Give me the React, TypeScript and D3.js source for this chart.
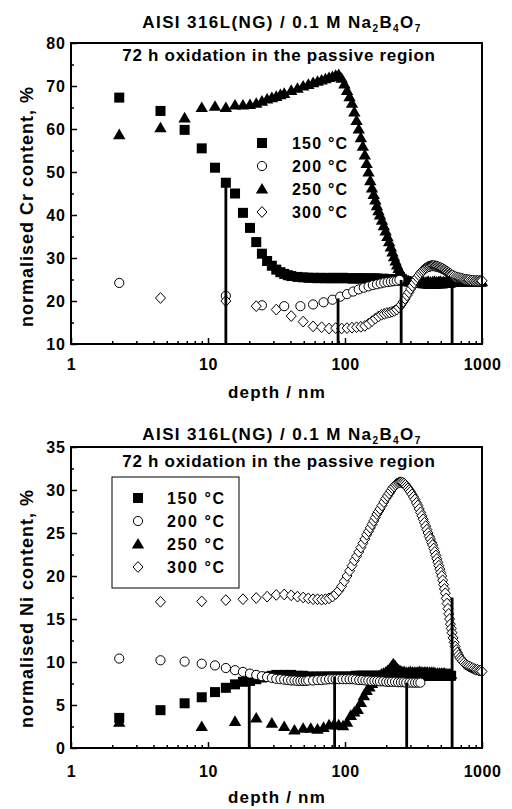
import React, { useEffect, useRef } from "react";
import * as d3 from "d3";

type Pt = [number, number];

// depth (nm), normalised Cr content (%)
const cr150: Pt[] = [
  [2.25, 67.3], [4.5, 64.2], [6.75, 59.8], [9, 55.5], [11.25, 51], [13.5, 47.5], [15.75, 45], [18, 40.5],
  [20.25, 37], [22.5, 33.7], [24.75, 31], [27, 29.3], [29.25, 28.2], [31.5, 27.3], [33.75, 26.7], [36, 26.3],
  [38.25, 26], [40.5, 25.8], [45, 25.6], [49.5, 25.5], [54, 25.4], [58.5, 25.4], [63, 25.3], [67.5, 25.4],
  [72, 25.3], [76.5, 25.3], [81, 25.4], [85.5, 25.3], [90, 25.3], [96, 25.4], [102, 25.3], [108, 25.3],
  [114, 25.2], [120, 25.3], [127, 25.3], [134, 25.2], [141, 25.3], [148, 25.2], [156, 25.2], [164, 25.3],
  [172, 25.2], [180, 25.1], [190, 25.2], [200, 25.1], [210, 25.1], [220, 25], [232, 25], [244, 24.9],
  [256, 24.8], [268, 24.7], [280, 24.6], [295, 24.5], [310, 24.4], [325, 24.3], [340, 24.2], [355, 24.2],
  [370, 24.1], [385, 24.1], [400, 24], [415, 24], [430, 24], [445, 24], [460, 24], [475, 24.1], [490, 24.1],
  [505, 24.1], [520, 24.1], [535, 24.2], [550, 24.2], [565, 24.2], [580, 24.2], [595, 24.3],
];
const cr200: Pt[] = [
  [2.25, 24.2], [13.5, 21.2], [24.75, 19], [36, 18.8], [47.25, 18.8], [58.5, 19.2], [69.75, 19.7], [81, 20.3],
  [92.25, 21], [103.5, 21.6], [114.75, 22.2], [126, 22.7], [137.25, 23.1], [148.5, 23.4], [159.75, 23.7],
  [171, 23.9], [182.25, 24.1], [193.5, 24.3], [204.75, 24.4], [216, 24.5], [227.25, 24.6], [238.5, 24.7],
  [249.75, 24.9],
];
const cr250: Pt[] = [
  [2.25, 58.7], [4.5, 60.3], [6.75, 62.6], [9, 65], [11.25, 65.3], [13.5, 65], [15.75, 65.6], [18, 65.6],
  [20.25, 65.7], [22.5, 66], [24.75, 66.5], [27, 67], [29.25, 67.3], [31.5, 67.6], [33.75, 68], [36, 68.3],
  [40.5, 69], [45, 69.5], [49.5, 70], [54, 70.4], [58.5, 70.8], [63, 71.1], [67.5, 71.4], [72, 71.7],
  [76.5, 72], [81, 72.2], [85.5, 72.5], [90, 72.7], [94.5, 71.8], [99, 70.5], [103.5, 69], [108, 67.5],
  [112.5, 66], [117, 64], [121.5, 62], [126, 60], [130.5, 58], [135, 56], [139.5, 54], [144, 52], [148.5, 50],
  [153, 48], [157.5, 46.3], [162, 44.8], [166.5, 43.5], [171, 42.2], [175.5, 41], [180, 40], [186, 38.8],
  [192, 37.5], [198, 36.3], [204, 35], [210, 33.8], [216, 32.6], [222, 31.4], [228, 30.3], [234, 29.3],
  [240, 28.4], [246, 27.6], [252, 26.9], [258, 26.3], [264, 25.8], [270, 25.4], [280, 25], [290, 24.7],
  [300, 24.5], [315, 24.6], [330, 24.4], [345, 24.6], [360, 24.4], [375, 24.5], [390, 24.4], [405, 24.6],
  [420, 24.4], [435, 24.5], [450, 24.6], [465, 24.4], [480, 24.5], [495, 24.6], [510, 24.4], [525, 24.5],
  [540, 24.4], [555, 24.6], [570, 24.4], [585, 24.5], [600, 24.6], [620, 24.4], [640, 24.5], [660, 24.6],
  [680, 24.4], [700, 24.5], [720, 24.4], [740, 24.6], [760, 24.4], [780, 24.5], [800, 24.6], [825, 24.4],
  [850, 24.5], [875, 24.4], [900, 24.6], [925, 24.4], [950, 24.5], [975, 24.4], [1000, 24.5],
];
const cr300: Pt[] = [
  [4.5, 20.7], [13.5, 20], [22.5, 18.8], [31.5, 18], [40.5, 16.5], [49.5, 15.2], [58.5, 14.1], [67.5, 13.9],
  [76.5, 13.6], [85.5, 13.7], [94.5, 13.6], [103.5, 13.7], [112.5, 13.8], [121.5, 13.9], [130.5, 14],
  [139.5, 14.2], [148.5, 14.7], [157.5, 15.3], [166.5, 15.9], [175.5, 16.4], [184.5, 16.8], [193.5, 17],
  [202.5, 17.2], [211.5, 17.3], [220.5, 17.5], [229.5, 17.7], [238.5, 18], [247.5, 18.5], [256.5, 19.1],
  [265.5, 19.8], [274.5, 20.5], [283.5, 21.3], [292.5, 22], [301.5, 22.8], [310.5, 23.5], [319.5, 24.2],
  [328.5, 24.9], [337.5, 25.5], [346.5, 26], [355.5, 26.5], [364.5, 26.9], [373.5, 27.2], [382.5, 27.5],
  [391.5, 27.7], [400.5, 27.9], [409.5, 28], [418.5, 28.1], [427.5, 28.2], [436.5, 28.2], [445.5, 28.2],
  [454.5, 28.1], [463.5, 28.1], [472.5, 28], [481.5, 27.9], [490.5, 27.8], [499.5, 27.7], [508.5, 27.6],
  [517.5, 27.5], [526.5, 27.3], [535.5, 27.2], [544.5, 27], [553.5, 26.9], [562.5, 26.7], [571.5, 26.6],
  [580.5, 26.4], [589.5, 26.3], [598.5, 26.1], [607.5, 26], [625, 25.8], [643, 25.6], [661, 25.5],
  [679, 25.4], [697, 25.3], [715, 25.2], [733, 25.1], [751, 25], [769, 25], [787, 24.9], [805, 24.9],
  [830, 24.8], [855, 24.8], [880, 24.7], [905, 24.7], [930, 24.7], [955, 24.7], [980, 24.7], [1000, 24.7],
];
// depth (nm), normalised Ni content (%)
const ni150: Pt[] = [
  [2.25, 3.5], [4.5, 4.4], [6.75, 5.2], [9, 5.9], [11.25, 6.5], [13.5, 7], [15.75, 7.4], [18, 7.7],
  [20.25, 7.8], [22.5, 8], [24.75, 8.2], [27, 8.3], [29.25, 8.4], [31.5, 8.5], [36, 8.5], [40.5, 8.5],
  [45, 8.4], [49.5, 8.4], [54, 8.3], [58.5, 8.3], [63, 8.3], [67.5, 8.3], [72, 8.3], [76.5, 8.3], [81, 8.3],
  [85.5, 8.3], [90, 8.3], [96, 8.3], [102, 8.3], [108, 8.3], [114, 8.3], [120, 8.4], [127, 8.4], [134, 8.4],
  [141, 8.4], [148, 8.4], [156, 8.4], [164, 8.4], [172, 8.4], [180, 8.4], [190, 8.4], [200, 8.4], [210, 8.4],
  [220, 8.4], [232, 8.4], [244, 8.4], [256, 8.4], [268, 8.4], [280, 8.4], [295, 8.4], [310, 8.4], [325, 8.4],
  [340, 8.4], [355, 8.4], [370, 8.4], [385, 8.4], [400, 8.4], [415, 8.4], [430, 8.4], [445, 8.4], [460, 8.4],
  [475, 8.4], [490, 8.4], [505, 8.4], [520, 8.4], [535, 8.4], [550, 8.4], [565, 8.4], [580, 8.4], [595, 8.4],
];
const ni200: Pt[] = [
  [2.25, 10.4], [4.5, 10.2], [6.75, 10.05], [9, 9.8], [11.25, 9.6], [13.5, 9.3], [15.75, 9.05], [18, 8.85],
  [20.25, 8.65], [22.5, 8.5], [24.75, 8.35], [27, 8.25], [29.25, 8.15], [31.5, 8.05], [33.75, 8], [36, 7.95],
  [38.25, 7.9], [40.5, 7.85], [42.75, 7.85], [45, 7.8], [47.25, 7.8], [49.5, 7.8], [51.75, 7.8], [54, 7.85],
  [58.5, 7.85], [63, 7.9], [67.5, 7.9], [72, 7.95], [76.5, 8], [81, 8], [85.5, 8], [90, 8], [96, 8], [102, 8],
  [108, 8], [114, 8], [120, 7.95], [127, 7.9], [134, 7.9], [141, 7.85], [148, 7.85], [156, 7.8], [164, 7.8],
  [172, 7.8], [180, 7.75], [190, 7.75], [200, 7.7], [210, 7.7], [220, 7.7], [232, 7.7], [244, 7.65],
  [256, 7.65], [268, 7.65], [280, 7.6], [295, 7.6], [310, 7.6], [325, 7.6], [340, 7.6], [355, 7.6],
];
const ni250: Pt[] = [
  [2.25, 3], [9, 2.5], [15.75, 3.1], [22.5, 3.5], [29.25, 2.9], [36, 2.5], [42.75, 2.1], [49.5, 2.3],
  [56.25, 2.3], [63, 2.2], [69.75, 2.4], [76.5, 2.7], [83.25, 2.8], [90, 2.7], [96.75, 2.6], [103.5, 3.0],
  [110.25, 3.8], [117, 4.2], [123.75, 4.5], [130.5, 5.3], [137.25, 6.1], [144, 6.7], [150.75, 7.1],
  [157.5, 7.5], [164.25, 7.9], [171, 8.2], [177.75, 8.4], [184.5, 8.6], [191.25, 8.7], [198, 8.8],
  [204.75, 9], [211.5, 9.2], [218.25, 9.5], [225, 9.8], [231.75, 9.6], [238.5, 9.3], [245.25, 9.1], [252, 9],
  [260, 8.9], [270, 8.9], [280, 8.8], [290, 8.8], [300, 8.9], [310, 8.8], [320, 8.8], [330, 8.8], [340, 8.8],
  [350, 8.9], [360, 8.8], [370, 8.8], [380, 8.8], [390, 8.8], [400, 8.8], [415, 8.8], [430, 8.8], [445, 8.8],
  [460, 8.7], [475, 8.7], [490, 8.7], [505, 8.7], [520, 8.7], [535, 8.7], [550, 8.6], [565, 8.6], [580, 8.6],
  [595, 8.6],
];
const ni300: Pt[] = [
  [4.5, 17], [9, 17.05], [13.5, 17.2], [18, 17.3], [22.5, 17.45], [27, 17.6], [31.5, 17.8], [36, 17.85],
  [40.5, 17.75], [45, 17.6], [49.5, 17.5], [54, 17.4], [58.5, 17.3], [63, 17.3], [67.5, 17.25], [72, 17.3],
  [76.5, 17.4], [81, 17.6], [85.5, 17.9], [90, 18.3], [94.5, 18.8], [99, 19.4], [103.5, 20], [108, 20.6],
  [112.5, 21.2], [117, 21.8], [121.5, 22.3], [126, 22.8], [130.5, 23.3], [135, 23.8], [139.5, 24.3],
  [144, 24.8], [148.5, 25.2], [153, 25.6], [157.5, 26], [162, 26.4], [166.5, 26.8], [171, 27.2],
  [175.5, 27.5], [180, 27.8], [186, 28.2], [192, 28.6], [198, 29], [204, 29.3], [210, 29.6], [216, 29.9],
  [222, 30.2], [228, 30.4], [234, 30.6], [240, 30.75], [246, 30.85], [252, 30.9], [258, 30.9], [264, 30.85],
  [270, 30.75], [276, 30.6], [282, 30.4], [288, 30.2], [294, 30], [300, 29.8], [308, 29.5], [316, 29.2],
  [324, 28.9], [332, 28.5], [340, 28.2], [348, 27.8], [356, 27.4], [364, 27.0], [372, 26.6], [380, 26.2],
  [388, 25.8], [396, 25.4], [404, 25.0], [412, 24.6], [420, 24.3], [428, 23.9], [436, 23.6], [444, 23.2],
  [452, 22.8], [460, 22.4], [468, 22.0], [476, 21.6], [484, 21.2], [492, 20.8], [500, 20.4], [508, 20.0],
  [516, 19.5], [524, 19.0], [532, 18.5], [540, 18.0], [548, 17.4], [556, 16.8], [564, 16.2], [572, 15.6],
  [580, 15.0], [588, 14.4], [596, 13.9], [604, 13.4], [615, 12.8], [626, 12.3], [637, 11.8], [648, 11.4],
  [660, 11.1], [675, 10.8], [690, 10.5], [705, 10.3], [720, 10.1], [740, 9.9], [760, 9.7], [780, 9.6],
  [800, 9.5], [825, 9.4], [850, 9.3], [875, 9.2], [900, 9.1], [925, 9.1], [950, 9], [975, 9], [1000, 8.9],
];

// vertical drop lines: depth, top value
const crLines: Pt[] = [[13.5, 47.5], [89, 20.6], [257, 24.9], [605, 24.2]];
const niLines: Pt[] = [[20, 7.8], [84, 8.3], [282, 7.6], [605, 17.5]];

const temps = ["150 °C", "200 °C", "250 °C", "300 °C"];
const kinds = ["square", "circle", "triangle", "diamond"];
const xTicks = [1, 10, 100, 1000];
const crTicks = [10, 20, 30, 40, 50, 60, 70, 80];
const niTicks = [0, 5, 10, 15, 20, 25, 30, 35];

const FONT = "'Liberation Sans', Arial, Helvetica, sans-serif";

const marker = (g: any, kind: string) => {
  if (kind === "square") {
    g.append("rect").attr("x", -5).attr("y", -5).attr("width", 10).attr("height", 10).attr("fill", "#000");
  } else if (kind === "circle") {
    g.append("circle").attr("r", 4.6).attr("fill", "#fff").attr("stroke", "#000").attr("stroke-width", 1);
  } else if (kind === "triangle") {
    g.append("path").attr("d", "M0,-6L6.2,4.6L-6.2,4.6Z").attr("fill", "#000");
  } else {
    g.append("path").attr("d", "M0,-5.4L5,0L0,5.4L-5,0Z").attr("fill", "#fff").attr("stroke", "#000").attr("stroke-width", 1);
  }
};

const drawPanel = (svg: any, x: any, p: any) => {
  const y = d3.scaleLinear().domain(p.domain).range([p.bottom, p.top]);
  const g = svg.append("g");
  const [x0, x1] = x.range();

  const minorX: number[] = [];
  for (let d = 1; d < 1000; d *= 10) for (let k = 2; k <= 9; k++) minorX.push(d * k);
  const minorY = d3.range(p.domain[0] + p.step / 2, p.domain[1], p.step);

  // series, drawn 150, 250, 200, 300
  [0, 2, 1, 3].forEach((i) => {
    g.append("g")
      .selectAll("g")
      .data(p.series[i])
      .join("g")
      .attr("transform", (d: Pt) => `translate(${x(d[0])},${y(d[1])})`)
      .each(function (this: any) {
        marker(d3.select(this), kinds[i]);
      });
  });

  g.append("g")
    .selectAll("line")
    .data(p.lines)
    .join("line")
    .attr("x1", (d: Pt) => x(d[0]))
    .attr("x2", (d: Pt) => x(d[0]))
    .attr("y1", p.bottom)
    .attr("y2", (d: Pt) => y(d[1]))
    .attr("stroke", "#000")
    .attr("stroke-width", 2.8);

  const styleAxis = (a: any) => {
    a.select(".domain").remove();
    a.selectAll("line").attr("stroke-width", 1.5);
    a.attr("font-family", FONT).attr("font-size", 16).attr("font-weight", "bold");
  };

  g.append("g")
    .attr("transform", `translate(0,${p.bottom})`)
    .call(d3.axisBottom(x).tickValues(minorX).tickSize(-3).tickFormat(() => ""))
    .call(styleAxis);
  g.append("g")
    .attr("transform", `translate(0,${p.bottom})`)
    .call(d3.axisBottom(x).tickValues(xTicks).tickSize(-6).tickFormat(d3.format("d")))
    .call(styleAxis)
    .call((a: any) => a.selectAll("text").attr("y", p.xLabelDy).attr("dy", null).attr("letter-spacing", 0.5));

  g.append("g")
    .attr("transform", `translate(${x0},0)`)
    .call(d3.axisLeft(y).tickValues(minorY).tickSize(-3).tickFormat(() => ""))
    .call(styleAxis);
  g.append("g")
    .attr("transform", `translate(${x0},0)`)
    .call(d3.axisLeft(y).tickValues(p.ticks).tickSize(-6).tickFormat(d3.format("d")))
    .call(styleAxis)
    .call((a: any) => a.selectAll("text").attr("x", -5).attr("dy", "0.36em").attr("letter-spacing", 1));

  g.append("rect")
    .attr("x", x0)
    .attr("y", p.top)
    .attr("width", x1 - x0)
    .attr("height", p.bottom - p.top)
    .attr("fill", "none")
    .attr("stroke", "#000")
    .attr("stroke-width", 2);

  const txt = (tx: number, ty: number, size: number, ls: number) =>
    g.append("text")
      .attr("x", tx)
      .attr("y", ty)
      .attr("font-family", FONT)
      .attr("font-weight", "bold")
      .attr("font-size", size)
      .attr("letter-spacing", ls);

  // title with subscripts
  const t = txt(282, p.titleY, 17, 1.4).attr("text-anchor", "middle");
  t.append("tspan").text("AISI 316L(NG) / 0.1 M Na");
  t.append("tspan").attr("font-size", 10).attr("dy", 4).text("2");
  t.append("tspan").attr("dy", -4).text("B");
  t.append("tspan").attr("font-size", 10).attr("dy", 4).text("4");
  t.append("tspan").attr("dy", -4).text("O");
  t.append("tspan").attr("font-size", 10).attr("dy", 4).text("7");

  txt(279, p.noteY, 17, 0.7).attr("text-anchor", "middle").text("72 h oxidation in the passive region");
  txt(277, p.xTitleY, 17, 1.2).attr("text-anchor", "middle").text("depth / nm");
  txt(0, 0, 18, 1)
    .attr("transform", `translate(33,${p.yTitleStart}) rotate(-90)`)
    .text(p.yTitle);

  // legend
  const lg = p.legend;
  if (lg.box) {
    g.append("rect")
      .attr("x", lg.box[0])
      .attr("y", lg.box[1])
      .attr("width", lg.box[2])
      .attr("height", lg.box[3])
      .attr("fill", "none")
      .attr("stroke", "#000")
      .attr("stroke-width", 1);
  }
  temps.forEach((name, i) => {
    const ry = lg.y + i * lg.dy;
    const mg = g.append("g").attr("transform", `translate(${lg.x},${ry})`);
    marker(mg, kinds[i]);
    txt(lg.tx, ry + 6, 16, lg.ls).text(name);
  });
};

const drawChart = (el: SVGSVGElement) => {
  const svg = d3.select(el);
  svg.selectAll("*").remove();
  const x = d3.scaleLog().domain([1, 1000]).range([71, 482]);

  drawPanel(svg, x, {
    top: 43,
    bottom: 344,
    domain: [10, 80],
    step: 10,
    ticks: crTicks,
    series: [cr150, cr200, cr250, cr300],
    lines: crLines,
    titleY: 28,
    noteY: 61,
    xLabelDy: 26,
    xTitleY: 398,
    yTitle: "normalised Cr content, %",
    yTitleStart: 327,
    legend: { x: 262, y: 143, dy: 23, tx: 292, ls: 1.2 },
  });

  drawPanel(svg, x, {
    top: 447,
    bottom: 748,
    domain: [0, 35],
    step: 5,
    ticks: niTicks,
    series: [ni150, ni200, ni250, ni300],
    lines: niLines,
    titleY: 440,
    noteY: 467,
    xLabelDy: 29,
    xTitleY: 803,
    yTitle: "normalised Ni content, %",
    yTitleStart: 728,
    legend: { x: 138, y: 498, dy: 23, tx: 167, ls: 1.6, box: [112, 477, 127, 111] },
  });
};

export default function App() {
  const ref = useRef<SVGSVGElement>(null);
  useEffect(() => {
    if (ref.current) drawChart(ref.current);
  }, []);
  return (
    <svg
      ref={ref}
      width={512}
      height={809}
      style={{ position: "absolute", left: 0, top: 0, background: "#fff" }}
    />
  );
}
